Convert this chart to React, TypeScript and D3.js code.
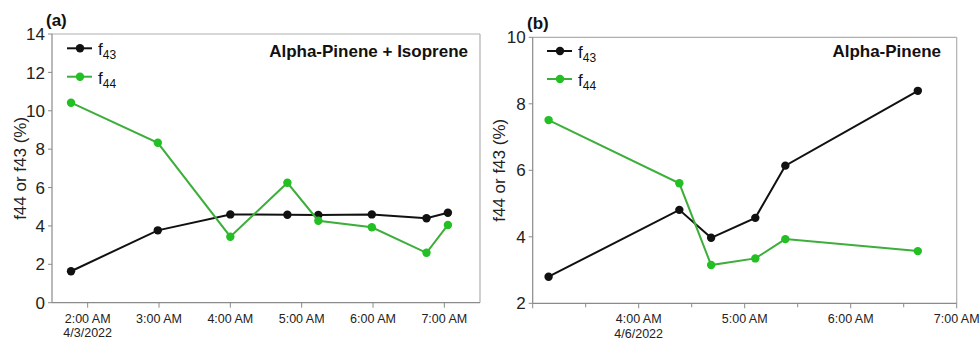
import React from "react";
import * as d3 from "d3";

// Panel (a): Alpha-Pinene + Isoprene, 4/3/2022
const timesA = ["01:46", "02:59", "04:00", "04:48", "05:14", "05:59", "06:45", "07:03"];
const f43A = [1.64, 3.77, 4.6, 4.58, 4.57, 4.6, 4.4, 4.69];
const f44A = [10.42, 8.33, 3.44, 6.25, 4.27, 3.93, 2.6, 4.05];
const yTicksA = [0, 2, 4, 6, 8, 10, 12, 14];
const xTicksA = ["02:00", "03:00", "04:00", "05:00", "06:00", "07:00"];
const xLabelsA = ["2:00 AM", "3:00 AM", "4:00 AM", "5:00 AM", "6:00 AM", "7:00 AM"];

// Panel (b): Alpha-Pinene, 4/6/2022
const timesB = ["03:09", "04:23", "04:41", "05:06", "05:23", "06:38"];
const f43B = [2.8, 4.81, 3.97, 4.57, 6.14, 8.39];
const f44B = [7.51, 5.61, 3.15, 3.35, 3.93, 3.57];
const yTicksB = [2, 4, 6, 8, 10];
const xTicksB = ["03:00", "04:00", "05:00", "06:00", "07:00"];
const xLabelsB = ["", "4:00 AM", "5:00 AM", "6:00 AM", "7:00 AM"];
const xMinorB = ["03:30", "04:30", "05:30", "06:30"];

const FONT = "'Liberation Sans', Arial, Helvetica, sans-serif";
const BLACK = "#111111";
const GREEN_LINE = "#3cae3a";
const GREEN_DOT = "#22c022";
const AXIS = "#8a8a8a";
const FRAME = "#b0b0b0";

function toDate(day: number, hm: string) {
  const [h, m] = hm.split(":").map(Number);
  return new Date(2022, 3, day, h, m);
}

type PanelProps = {
  left: number; top: number; right: number; bottom: number;
  day: number; domain: [string, string]; yDomain: [number, number];
  times: string[]; f43: number[]; f44: number[];
  yTicks: number[]; xTicks: string[]; xLabels: string[]; xMinor: string[];
  dateLabel: string; dateTick: string; letter: string; title: string;
  titleX: number; legendX: number; legendY: number; legendGap: number;
  yTitleX: number; letterX: number;
};

function Panel(p: PanelProps) {
  const x = d3.scaleTime()
    .domain([toDate(p.day, p.domain[0]), toDate(p.day, p.domain[1])])
    .range([p.left, p.right]);
  const y = d3.scaleLinear().domain(p.yDomain).range([p.bottom, p.top]);
  const line = d3.line<[Date, number]>().x(d => x(d[0])).y(d => y(d[1]));
  const pts43: [Date, number][] = p.times.map((t, i) => [toDate(p.day, t), p.f43[i]]);
  const pts44: [Date, number][] = p.times.map((t, i) => [toDate(p.day, t), p.f44[i]]);
  const midY = (p.top + p.bottom) / 2;
  const series = [
    { pts: pts43, line: BLACK, dot: BLACK, sub: "43" },
    { pts: pts44, line: GREEN_LINE, dot: GREEN_DOT, sub: "44" },
  ];
  return (
    <g fontFamily={FONT}>
      {/* frame */}
      <line x1={p.left} x2={p.right} y1={p.top} y2={p.top} stroke={FRAME} strokeWidth={1.2} />
      <line x1={p.right} x2={p.right} y1={p.top} y2={p.bottom} stroke={FRAME} strokeWidth={1.2} />
      <line x1={p.left} x2={p.left} y1={p.top} y2={p.bottom} stroke={AXIS} strokeWidth={1.2} />
      <line x1={p.left} x2={p.right} y1={p.bottom} y2={p.bottom} stroke={AXIS} strokeWidth={1.2} />
      {/* y ticks */}
      {p.yTicks.map(v => (
        <g key={"y" + v}>
          <line x1={p.left - 4} x2={p.left} y1={y(v)} y2={y(v)} stroke={AXIS} strokeWidth={1} />
          <text x={p.left - 7} y={y(v)} dy="0.36em" textAnchor="end" fontSize={17} fill="#222">{v}</text>
        </g>
      ))}
      {/* x ticks */}
      {p.xTicks.map((t, i) => {
        const xx = x(toDate(p.day, t));
        return (
          <g key={"x" + t}>
            <line x1={xx} x2={xx} y1={p.bottom} y2={p.bottom + 5} stroke={AXIS} strokeWidth={1} />
            <text x={xx} y={p.bottom + 20} textAnchor="middle" fontSize={12.5} fill="#222">{p.xLabels[i]}</text>
            {t === p.dateTick && (
              <text x={xx} y={p.bottom + 34.5} textAnchor="middle" fontSize={12.5} fill="#222">{p.dateLabel}</text>
            )}
          </g>
        );
      })}
      {p.xMinor.map(t => {
        const xx = x(toDate(p.day, t));
        return <line key={"m" + t} x1={xx} x2={xx} y1={p.bottom} y2={p.bottom + 4} stroke={AXIS} strokeWidth={1} />;
      })}
      {/* y title */}
      <text transform={`translate(${p.yTitleX},${midY}) rotate(-90)`} textAnchor="middle" fontSize={17} fill="#222">
        f44 or f43 (%)
      </text>
      {/* letter */}
      <text x={p.letterX} y={p.top - 8} fontSize={17} fontWeight="bold" fill="#111">{p.letter}</text>
      {/* title */}
      <text x={p.titleX} y={57} textAnchor="end" fontSize={17} fontWeight="bold" fill="#111">{p.title}</text>
      {/* series */}
      {series.map(s => (
        <g key={s.sub}>
          <path d={line(s.pts) || ""} fill="none" stroke={s.line} strokeWidth={2} />
          {s.pts.map((d, i) => (
            <circle key={i} cx={x(d[0])} cy={y(d[1])} r={4.2} fill={s.dot} />
          ))}
        </g>
      ))}
      {/* legend */}
      {series.map((s, i) => {
        const ly = p.legendY + i * p.legendGap;
        return (
          <g key={"l" + s.sub}>
            <line x1={p.legendX} x2={p.legendX + 25} y1={ly} y2={ly} stroke={s.line} strokeWidth={2} />
            <circle cx={p.legendX + 13} cy={ly} r={4.2} fill={s.dot} />
            <text x={p.legendX + 31} y={ly + 7} fontSize={17} fill="#111">
              f<tspan fontSize={12} dy={4}>{s.sub}</tspan>
            </text>
          </g>
        );
      })}
    </g>
  );
}

export default function App() {
  return (
    <svg width={980} height={340} style={{ position: "absolute", left: 0, top: 0, background: "#fff" }}>
      <rect width={980} height={340} fill="#fff" />
      <Panel
        left={52} top={34} right={480} bottom={302.7}
        day={3} domain={["01:30", "07:30"]} yDomain={[0, 14]}
        times={timesA} f43={f43A} f44={f44A}
        yTicks={yTicksA} xTicks={xTicksA} xLabels={xLabelsA} xMinor={[]}
        dateLabel="4/3/2022" dateTick="02:00" letter="(a)" title="Alpha-Pinene + Isoprene"
        titleX={468} legendX={67} legendY={48.3} legendGap={28.4}
        yTitleX={26} letterX={46}
      />
      <Panel
        left={532.7} top={37.3} right={956.7} bottom={303.3}
        day={6} domain={["03:00", "07:00"]} yDomain={[2, 10]}
        times={timesB} f43={f43B} f44={f44B}
        yTicks={yTicksB} xTicks={xTicksB} xLabels={xLabelsB} xMinor={xMinorB}
        dateLabel="4/6/2022" dateTick="04:00" letter="(b)" title="Alpha-Pinene"
        titleX={941} legendX={547} legendY={51} legendGap={28}
        yTitleX={505} letterX={527}
      />
    </svg>
  );
}
